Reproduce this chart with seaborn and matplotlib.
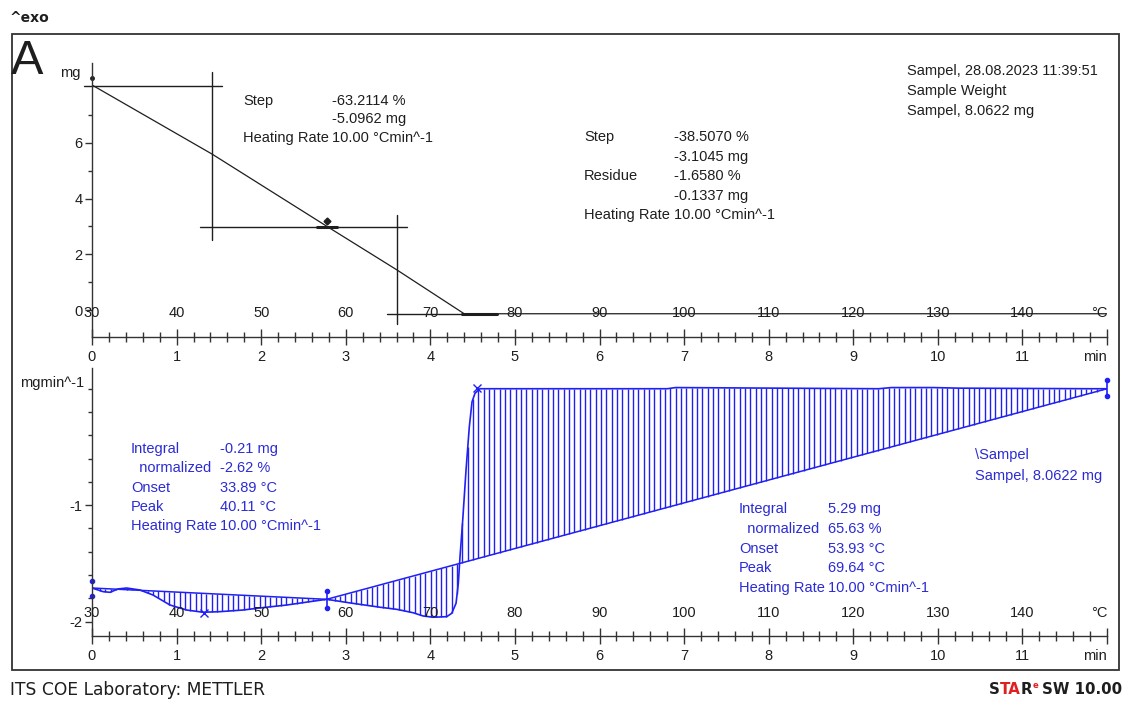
import numpy as np
import pandas as pd
import matplotlib.pyplot as plt
import seaborn as sns
from matplotlib.patches import Rectangle
from matplotlib.ticker import MultipleLocator, FixedLocator

sns.set_style("white")
plt.rcParams["font.family"] = ["Liberation Sans", "DejaVu Sans"]
plt.rcParams["axes.unicode_minus"] = False

# ---- data ----
# TGA (mg) vs time (min)
tga_time = [0.0, 1.419, 2.79, 3.605, 4.40, 12.0]
tga_mass = [8.08, 5.60, 2.98, 1.44, -0.134, -0.134]

# DTG (mg/min) vs time (min)
dtg_time = [0.0, 0.130, 0.213, 0.307, 0.410, 0.567, 0.721, 0.922, 1.120, 1.312,
            1.513, 1.785, 1.986, 2.302, 2.578, 2.775, 3.050, 3.405, 3.603, 3.795,
            3.914, 4.032, 4.194, 4.253, 4.304, 4.331, 4.351, 4.383, 4.422, 4.461,
            4.493, 4.528, 4.587, 6.80, 6.90, 9.30, 9.45, 9.95, 10.25, 11.80, 12.0]
dtg_value = [-1.711, -1.742, -1.748, -1.719, -1.711, -1.728, -1.771, -1.857, -1.900, -1.919,
             -1.914, -1.900, -1.882, -1.857, -1.828, -1.808, -1.839, -1.876, -1.894, -1.923,
             -1.951, -1.962, -1.957, -1.928, -1.842, -1.670, -1.442, -1.127, -0.698, -0.326,
             -0.112, -0.039, 0.0, 0.0, 0.01, 0.0, 0.01, 0.01, 0.005, 0.0, 0.0]

# integration baselines (start/end points)
base1_t = [0.0, 2.775]
base1_v = [-1.711, -1.808]
base2_t = [2.775, 12.0]
base2_v = [-1.808, 0.0]

# evaluation limit markers on the DTG curve
limit_t = [0.0, 0.0, 2.775, 2.775, 12.0, 12.0]
limit_v = [-1.65, -1.78, -1.74, -1.88, 0.075, -0.062]
peak_mark_t = [1.324, 4.55]
peak_mark_v = [-1.928, 0.01]

# TGA step evaluation lines: (t0, t1, m0, m1)
step_lines = [
    (-0.10, 1.54, 8.06, 8.06),
    (1.42, 1.42, 2.50, 8.55),
    (1.28, 3.73, 2.966, 2.966),
    (3.61, 3.61, -0.50, 3.42),
    (3.49, 4.79, -0.134, -0.134),
]

minutes = list(range(13))
minute_labels = [str(m) for m in range(12)] + ["min"]
temps = [30, 40, 50, 60, 70, 80, 90, 100, 110, 120, 130, 140, 150]
temp_labels = [str(t) for t in temps[:-1]] + ["°C"]
heating_rate = 10.0

BLUE = "#2020f4"
BLUE_TXT = "#2b2bd6"
INK = "#1e1e1e"

W, H = 1123, 702


def fx(x):
    return x / W


def fy(y):
    return 1 - y / H


fig = plt.figure(figsize=(11.23, 7.02), dpi=100)
fig.patch.set_facecolor("white")
fig.add_artist(Rectangle((fx(12), fy(670)), fx(1119) - fx(12), fy(34) - fy(670),
                         transform=fig.transFigure, fill=False, lw=1.3, ec="#333333"))

ax_top = fig.add_axes([fx(92), fy(337), fx(1107) - fx(92), fy(63) - fy(337)])
ax_bot = fig.add_axes([fx(92), fy(636), fx(1107) - fx(92), fy(368) - fy(636)])

# ---- TGA curve ----
sns.lineplot(x=tga_time, y=tga_mass, ax=ax_top, color=INK, lw=0.9)
for t0, t1, m0, m1 in step_lines:
    ax_top.plot([t0, t1], [m0, m1], color=INK, lw=1.0, clip_on=False)
ax_top.plot([4.37, 4.79], [-0.134, -0.134], color=INK, lw=2.2)
ax_top.plot([2.66, 2.90], [2.966, 2.966], color=INK, lw=2.2)
ax_top.plot([2.78], [3.2], marker="D", ms=3.5, color=INK)
ax_top.plot([0.0], [8.33], marker="o", ms=2.5, color=INK, clip_on=False)

# ---- DTG curve ----
sns.lineplot(x=dtg_time, y=dtg_value, ax=ax_bot, color=BLUE, lw=1.2)
ax_bot.plot(base1_t, base1_v, color=BLUE, lw=1.1)
ax_bot.plot(base2_t, base2_v, color=BLUE, lw=1.1)

step = 0.063
for bt, bv in [(base1_t, base1_v), (base2_t, base2_v)]:
    ht = np.arange(bt[0] + 0.03, bt[1], step)
    hb = np.interp(ht, bt, bv)
    hc = np.interp(ht, dtg_time, dtg_value)
    ax_bot.vlines(ht, hb, hc, color=BLUE, lw=1.0)

ax_bot.plot(limit_t, limit_v, ls="none", marker="o", ms=3, color=BLUE, clip_on=False)
ax_bot.plot([2.775, 2.775], [limit_v[2], limit_v[3]], color=BLUE, lw=1.2)
ax_bot.plot([12.0, 12.0], [limit_v[4], limit_v[5]], color=BLUE, lw=1.2, clip_on=False)
ax_bot.plot(peak_mark_t, peak_mark_v, ls="none", marker="x", ms=6, mew=1.0, color=BLUE)

# ---- axes styling ----
for ax in (ax_top, ax_bot):
    ax.set_facecolor("none")
    ax.set_xlabel("")
    ax.set_ylabel("")
    for side in ("top", "right"):
        ax.spines[side].set_visible(False)
    for side in ("left", "bottom"):
        ax.spines[side].set_color("#333333")
        ax.spines[side].set_linewidth(1.0)
    ax.set_xlim(0, 12)
    ax.set_xticks(minutes)
    ax.set_xticklabels(minute_labels)
    ax.get_xticklabels()[-1].set_ha("right")
    ax.xaxis.set_minor_locator(MultipleLocator(0.2))
    ax.tick_params(axis="x", which="both", bottom=True, top=False)
    ax.tick_params(axis="y", which="both", left=True, right=False)
    ax.tick_params(axis="x", which="major", direction="inout", length=11, width=1,
                   pad=4, labelsize=10.5, colors="#333333", labelcolor=INK)
    ax.tick_params(axis="x", which="minor", direction="inout", length=7, width=1,
                   colors="#333333")
    ax.tick_params(axis="y", which="major", direction="out", length=5, width=1,
                   pad=2, labelsize=10.5, colors="#333333", labelcolor=INK)
    ax.tick_params(axis="y", which="minor", direction="out", length=3, width=1,
                   colors="#333333")
    ax.grid(False)

ax_top.set_ylim(-0.969, 8.87)
ax_top.set_yticks([0, 2, 4, 6])
ax_top.yaxis.set_minor_locator(FixedLocator([1, 3, 5, 7]))

ax_bot.set_ylim(-2.123, 0.178)
ax_bot.set_yticks([-2, -1])
ax_bot.yaxis.set_minor_locator(FixedLocator(np.round(np.arange(-2.0, 0.01, 0.2), 1)))

# temperature scale printed inside each panel
for ax, frac in ((ax_top, 0.0876), (ax_bot, 0.0858)):
    for T, lbl in zip(temps, temp_labels):
        ax.text((T - temps[0]) / heating_rate, frac, lbl, transform=ax.get_xaxis_transform(),
                ha="right" if lbl == "°C" else "center", va="center", fontsize=10.5,
                color=INK, clip_on=False)

# ---- annotations ----
def label(x, y, s, color=INK, size=10.5, **kw):
    fig.text(fx(x), fy(y), s, ha="left", va="center", fontsize=size, color=color, **kw)


fig.text(fx(10), fy(18), "^exo", ha="left", va="center", fontsize=10, weight="bold",
         family="DejaVu Sans", color=INK)
label(11, 61, "A", size=35)
fig.text(fx(70), fy(73), "mg", ha="center", va="center", fontsize=10.5, color=INK)
fig.text(fx(52), fy(383), "mgmin^-1", ha="center", va="center", fontsize=10.5, color=INK)

label(243, 101, "Step")
label(243, 138, "Heating Rate")
label(332, 101, "-63.2114 %")
label(332, 119, "-5.0962 mg")
label(332, 138, "10.00 °Cmin^-1")

label(584, 137, "Step")
label(584, 176, "Residue")
label(584, 215, "Heating Rate")
label(674, 137, "-38.5070 %")
label(674, 157, "-3.1045 mg")
label(674, 176, "-1.6580 %")
label(674, 196, "-0.1337 mg")
label(674, 215, "10.00 °Cmin^-1")

label(907, 71, "Sampel, 28.08.2023 11:39:51")
label(907, 91, "Sample Weight")
label(907, 111, "Sampel, 8.0622 mg")

rows1 = [("Integral", "-0.21 mg"), ("  normalized", "-2.62 %"), ("Onset", "33.89 °C"),
         ("Peak", "40.11 °C"), ("Heating Rate", "10.00 °Cmin^-1")]
for i, (k, v) in enumerate(rows1):
    y = 449 + i * 19.3
    label(131, y, k, color=BLUE_TXT)
    label(220, y, v, color=BLUE_TXT)

rows2 = [("Integral", "5.29 mg"), ("  normalized", "65.63 %"), ("Onset", "53.93 °C"),
         ("Peak", "69.64 °C"), ("Heating Rate", "10.00 °Cmin^-1")]
for i, (k, v) in enumerate(rows2):
    y = 509 + i * 19.8
    label(739, y, k, color=BLUE_TXT)
    label(828, y, v, color=BLUE_TXT)

label(975, 455, "\\Sampel", color=BLUE_TXT)
label(975, 476, "Sampel, 8.0622 mg", color=BLUE_TXT)

# footer
fig.text(fx(10), fy(690), "ITS COE Laboratory: METTLER", ha="left", va="center",
         fontsize=12.3, family="DejaVu Sans", color=INK)
foot = dict(fontsize=10.8, family="DejaVu Sans", weight="bold", va="bottom", ha="left",
            annotation_clip=False, textcoords="offset points")
t1 = fig.text(fx(989), fy(690), "S", ha="left", va="center", fontsize=10.8,
              family="DejaVu Sans", weight="bold", color=INK)
t2 = ax_bot.annotate("TA", xy=(1, 0), xycoords=t1, xytext=(0, 0), color="#e02020", **foot)
t3 = ax_bot.annotate("R", xy=(1, 0), xycoords=t2, xytext=(0, 0), color=INK, **foot)
ax_bot.annotate("e", xy=(1, 0.5), xycoords=t3, xytext=(0, 0), color="#e02020",
                **{**foot, "fontsize": 6})
ax_bot.annotate("SW 10.00", xy=(1, 0), xycoords=t3, xytext=(7, 0), color=INK, **foot)

fig.savefig("out.png", dpi=100)
